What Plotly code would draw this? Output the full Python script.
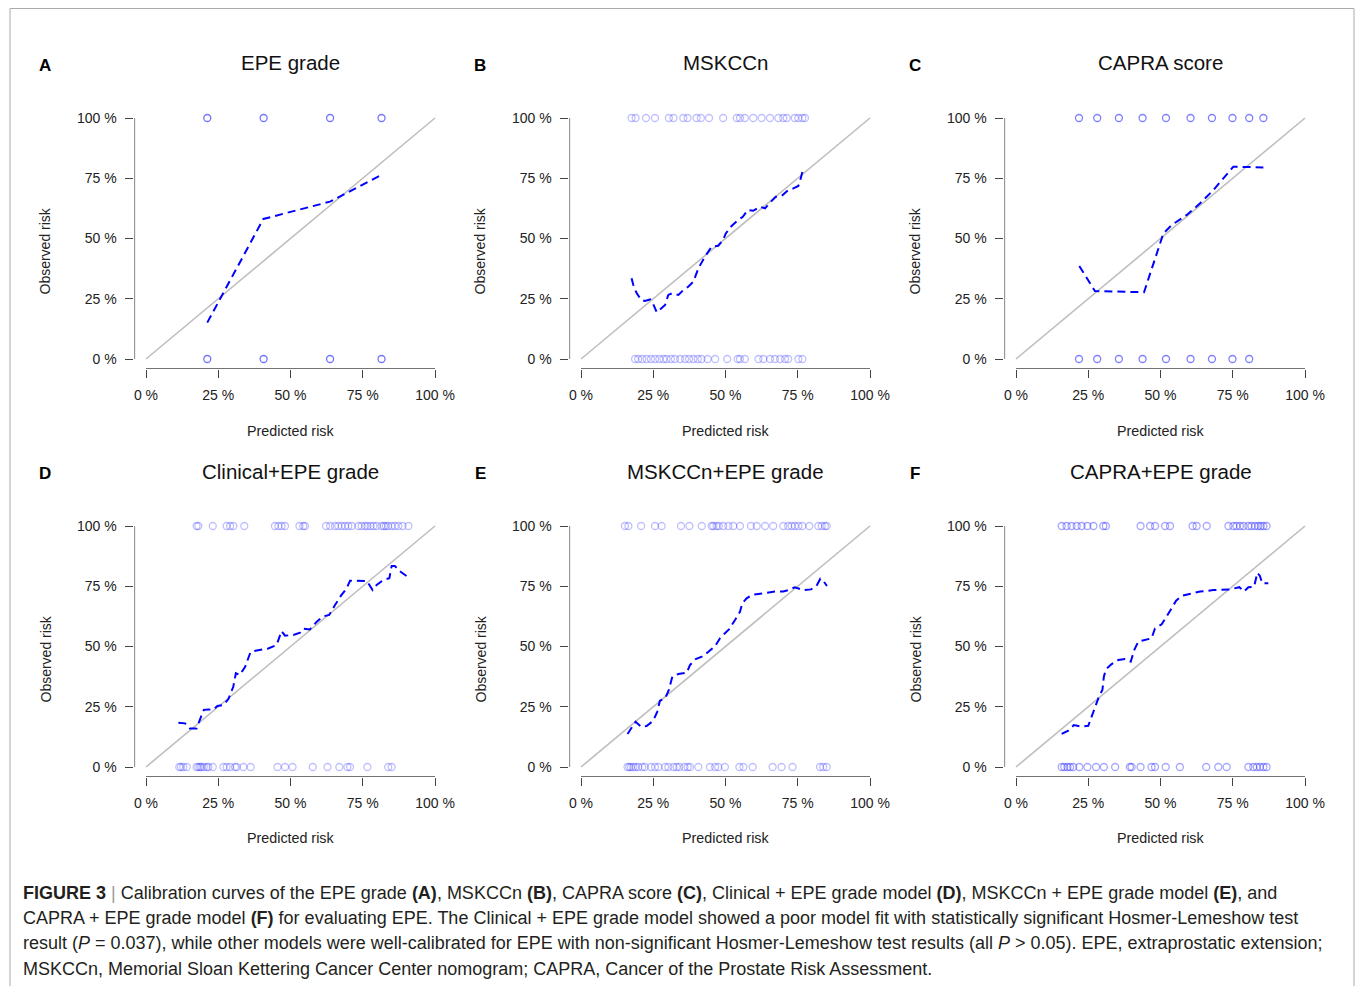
import plotly.graph_objects as go

# Figure fills the window (body margin removed after load). The screenshot is
# slightly compressed horizontally, so x positions are stretched by SX.
W, H = 1365, 986
SX = 1365 / 1357

# ---------------- data ----------------
panel_titles = ["EPE grade", "MSKCCn", "CAPRA score",
                "Clinical+EPE grade", "MSKCCn+EPE grade", "CAPRA+EPE grade"]
panel_letters = ["A", "B", "C", "D", "E", "F"]
tick_vals = [0, 0.25, 0.5, 0.75, 1]
tick_text = ["0 %", "25 %", "50 %", "75 %", "100 %"]
ref_line = [0, 1]

# A: EPE grade
a_rug_top = [0.212, 0.407, 0.637, 0.815]
a_rug_bottom = [0.212, 0.407, 0.637, 0.815]
a_curve_x = [0.212, 0.406, 0.637, 0.821]
a_curve_y = [0.151, 0.581, 0.653, 0.768]

# B: MSKCCn
b_rug_top = [0.175, 0.189, 0.225, 0.256, 0.304, 0.320, 0.354, 0.369, 0.400, 0.415,
             0.443, 0.492, 0.539, 0.550, 0.567, 0.596, 0.625, 0.654, 0.683, 0.700,
             0.712, 0.740, 0.752, 0.766, 0.775]
b_rug_bottom = [0.187, 0.198, 0.212, 0.227, 0.242, 0.256, 0.271, 0.285, 0.296, 0.311,
                0.325, 0.343, 0.360, 0.374, 0.389, 0.404, 0.417, 0.438, 0.464, 0.506,
                0.542, 0.550, 0.567, 0.614, 0.631, 0.654, 0.671, 0.689, 0.706, 0.717,
                0.752, 0.766]
b_curve_x = [0.175, 0.181, 0.192, 0.208, 0.221, 0.239, 0.250, 0.262, 0.291, 0.302,
             0.314, 0.337, 0.354, 0.371, 0.389, 0.406, 0.429, 0.452, 0.475, 0.492,
             0.501, 0.521, 0.544, 0.560, 0.577, 0.596, 0.619, 0.637, 0.654, 0.674,
             0.694, 0.717, 0.735, 0.752, 0.759, 0.770]
b_curve_y = [0.335, 0.307, 0.275, 0.245, 0.241, 0.247, 0.228, 0.194, 0.224, 0.266,
             0.272, 0.266, 0.286, 0.300, 0.321, 0.376, 0.425, 0.466, 0.470, 0.494,
             0.521, 0.552, 0.577, 0.590, 0.618, 0.615, 0.632, 0.625, 0.649, 0.673,
             0.676, 0.701, 0.708, 0.718, 0.743, 0.794]

# C: CAPRA score
c_rug_top = [0.218, 0.281, 0.356, 0.438, 0.519, 0.604, 0.678, 0.749, 0.807, 0.856]
c_rug_bottom = [0.218, 0.281, 0.356, 0.438, 0.519, 0.604, 0.678, 0.749, 0.807]
c_curve_x = [0.219, 0.273, 0.443, 0.510, 0.539, 0.591, 0.637, 0.683, 0.752, 0.856]
c_curve_y = [0.386, 0.282, 0.277, 0.521, 0.556, 0.598, 0.646, 0.701, 0.798, 0.795]

# D: Clinical + EPE grade
d_rug_top = [0.175, 0.181, 0.231, 0.279, 0.291, 0.302, 0.340, 0.446, 0.458, 0.469,
             0.481, 0.531, 0.544, 0.550, 0.623, 0.637, 0.654, 0.665, 0.677, 0.689,
             0.700, 0.712, 0.735, 0.746, 0.758, 0.766, 0.777, 0.787, 0.798, 0.815,
             0.823, 0.830, 0.838, 0.850, 0.861, 0.873, 0.888, 0.908]
d_rug_bottom = [0.115, 0.121, 0.129, 0.141, 0.175, 0.181, 0.187, 0.192, 0.200, 0.210,
                0.216, 0.231, 0.268, 0.279, 0.291, 0.308, 0.314, 0.337, 0.362, 0.455,
                0.481, 0.507, 0.577, 0.628, 0.669, 0.697, 0.706, 0.766, 0.838, 0.850]
d_curve_x = [0.112, 0.135, 0.152, 0.175, 0.187, 0.200, 0.216, 0.231, 0.247, 0.268,
             0.285, 0.302, 0.311, 0.325, 0.343, 0.354, 0.362, 0.383, 0.423, 0.452,
             0.469, 0.481, 0.510, 0.533, 0.544, 0.567, 0.591, 0.611, 0.634, 0.654,
             0.674, 0.694, 0.706, 0.764, 0.784, 0.798, 0.821, 0.842, 0.850, 0.861,
             0.881, 0.913]
d_curve_y = [0.184, 0.181, 0.160, 0.160, 0.198, 0.237, 0.239, 0.237, 0.253, 0.257,
             0.282, 0.333, 0.389, 0.382, 0.416, 0.451, 0.478, 0.483, 0.492, 0.506,
             0.564, 0.545, 0.548, 0.557, 0.574, 0.571, 0.603, 0.624, 0.631, 0.672,
             0.710, 0.741, 0.773, 0.772, 0.734, 0.755, 0.776, 0.783, 0.834, 0.834,
             0.810, 0.783]

# E: MSKCCn + EPE grade
e_rug_top = [0.152, 0.164, 0.208, 0.256, 0.279, 0.346, 0.375, 0.418, 0.452, 0.458,
             0.469, 0.477, 0.492, 0.510, 0.527, 0.550, 0.588, 0.608, 0.637, 0.665,
             0.700, 0.717, 0.729, 0.740, 0.752, 0.766, 0.790, 0.821, 0.833, 0.844,
             0.850]
e_rug_bottom = [0.161, 0.167, 0.173, 0.181, 0.189, 0.198, 0.212, 0.221, 0.242, 0.256,
                0.268, 0.291, 0.302, 0.320, 0.331, 0.340, 0.358, 0.369, 0.377, 0.406,
                0.446, 0.464, 0.475, 0.498, 0.548, 0.562, 0.594, 0.663, 0.694, 0.732,
                0.827, 0.838, 0.850]
e_curve_x = [0.161, 0.170, 0.189, 0.208, 0.227, 0.250, 0.264, 0.273, 0.291, 0.304,
             0.316, 0.337, 0.366, 0.377, 0.397, 0.418, 0.441, 0.464, 0.481, 0.498,
             0.512, 0.533, 0.550, 0.558, 0.573, 0.591, 0.637, 0.671, 0.700, 0.717,
             0.740, 0.769, 0.796, 0.815, 0.828, 0.838, 0.851]
e_curve_y = [0.137, 0.154, 0.188, 0.167, 0.170, 0.192, 0.230, 0.275, 0.285, 0.320,
             0.375, 0.386, 0.391, 0.423, 0.448, 0.458, 0.478, 0.502, 0.534, 0.555,
             0.571, 0.610, 0.644, 0.679, 0.700, 0.714, 0.721, 0.728, 0.728, 0.734,
             0.746, 0.734, 0.737, 0.751, 0.781, 0.773, 0.751]

# F: CAPRA + EPE grade
f_rug_top = [0.158, 0.175, 0.192, 0.210, 0.227, 0.247, 0.268, 0.302, 0.311, 0.431,
             0.464, 0.481, 0.516, 0.533, 0.611, 0.625, 0.660, 0.735, 0.752, 0.763,
             0.775, 0.787, 0.804, 0.815, 0.827, 0.838, 0.847, 0.856, 0.867]
f_rug_bottom = [0.158, 0.167, 0.178, 0.187, 0.198, 0.219, 0.247, 0.277, 0.304, 0.343,
                0.394, 0.400, 0.431, 0.469, 0.481, 0.518, 0.567, 0.658, 0.700, 0.729,
                0.804, 0.821, 0.833, 0.844, 0.856, 0.867]
f_curve_x = [0.158, 0.181, 0.200, 0.227, 0.250, 0.262, 0.273, 0.287, 0.299, 0.304,
             0.311, 0.331, 0.354, 0.377, 0.397, 0.409, 0.423, 0.452, 0.469, 0.481,
             0.504, 0.521, 0.539, 0.554, 0.573, 0.602, 0.637, 0.683, 0.740, 0.773,
             0.789, 0.804, 0.824, 0.835, 0.844, 0.852, 0.873]
f_curve_y = [0.137, 0.151, 0.174, 0.167, 0.171, 0.212, 0.250, 0.292, 0.320, 0.375,
             0.405, 0.427, 0.444, 0.448, 0.437, 0.485, 0.520, 0.527, 0.534, 0.575,
             0.592, 0.624, 0.663, 0.690, 0.710, 0.717, 0.728, 0.734, 0.737, 0.746,
             0.728, 0.746, 0.748, 0.806, 0.793, 0.762, 0.762]

rugs_top = [a_rug_top, b_rug_top, c_rug_top, d_rug_top, e_rug_top, f_rug_top]
rugs_bottom = [a_rug_bottom, b_rug_bottom, c_rug_bottom, d_rug_bottom, e_rug_bottom, f_rug_bottom]
curves_x = [a_curve_x, b_curve_x, c_curve_x, d_curve_x, e_curve_x, f_curve_x]
curves_y = [a_curve_y, b_curve_y, c_curve_y, d_curve_y, e_curve_y, f_curve_y]
rug_alpha = [0.55, 0.25, 0.5, 0.25, 0.25, 0.35]

caption_lines = [
    "<b>FIGURE 3</b> <span style='color:#999'>|</span> Calibration curves of the EPE grade <b>(A)</b>, MSKCCn <b>(B)</b>, CAPRA score <b>(C)</b>, Clinical + EPE grade model <b>(D)</b>, MSKCCn + EPE grade model <b>(E)</b>, and",
    "CAPRA + EPE grade model <b>(F)</b> for evaluating EPE. The Clinical + EPE grade model showed a poor model fit with statistically significant Hosmer-Lemeshow test",
    "result (<i>P</i> = 0.037), while other models were well-calibrated for EPE with non-significant Hosmer-Lemeshow test results (all <i>P</i> > 0.05). EPE, extraprostatic extension;",
    "MSKCCn, Memorial Sloan Kettering Cancer Center nomogram; CAPRA, Cancer of the Prostate Risk Assessment.",
]

# ---------------- layout geometry (screen pixels) ----------------
FONT = "Liberation Sans, Arial, sans-serif"
col_x0 = [146, 581, 1016]   # pixel of 0 % on x
unit_w = 289
row_y1 = [118, 526]         # pixel of 100 % on y
unit_h = 241
pad = 0.04


def px(x):
    return x * SX / W


def py(y):
    return 1 - y / H


fig = go.Figure()
annotations = []
shapes = []

for i in range(6):
    r, c = divmod(i, 3)
    n = i + 1
    xa = "x" if n == 1 else f"x{n}"
    ya = "y" if n == 1 else f"y{n}"
    x0 = col_x0[c]
    ytop = row_y1[r]
    ybot = ytop + unit_h
    dom_x = [px(x0 - pad * unit_w), px(x0 + (1 + pad) * unit_w)]
    dom_y = [py(ybot + pad * unit_h), py(ytop - pad * unit_h)]

    axcommon = dict(range=[-pad, 1 + pad], tickvals=tick_vals, ticktext=tick_text,
                    ticks="outside", ticklen=8, tickwidth=1.2, tickcolor="#444",
                    showgrid=False, zeroline=False, showline=False,
                    tickfont=dict(family=FONT, size=14, color="#222"))
    fig.layout[f"xaxis{'' if n == 1 else n}"] = dict(domain=dom_x, anchor=ya,
                                                    ticklabelstandoff=6, **axcommon)
    fig.layout[f"yaxis{'' if n == 1 else n}"] = dict(domain=dom_y, anchor=xa,
                                                    ticklabelstandoff=6, **axcommon)

    # R-style detached axis lines spanning 0..1
    shapes.append(dict(type="line", xref=xa, yref=ya, x0=0, x1=1, y0=-pad, y1=-pad,
                       line=dict(color="#444", width=1.3)))
    shapes.append(dict(type="line", xref=xa, yref=ya, x0=-pad, x1=-pad, y0=0, y1=1,
                       line=dict(color="#444", width=1.3)))

    # diagonal
    fig.add_trace(go.Scatter(x=ref_line, y=ref_line, mode="lines", xaxis=xa, yaxis=ya,
                             line=dict(color="#BEBEBE", width=1.6), showlegend=False,
                             hoverinfo="skip"))
    # rugs
    col = f"rgba(0,0,255,{rug_alpha[i]})"
    for vals, yv in ((rugs_top[i], 1), (rugs_bottom[i], 0)):
        fig.add_trace(go.Scatter(x=vals, y=[yv] * len(vals), mode="markers",
                                 xaxis=xa, yaxis=ya, showlegend=False,
                                 marker=dict(symbol="circle-open", size=7, color=col,
                                             line=dict(width=1.3, color=col))))
    # calibration curve
    fig.add_trace(go.Scatter(x=curves_x[i], y=curves_y[i], mode="lines", xaxis=xa, yaxis=ya,
                             line=dict(color="#0000FF", width=2, dash="8px,5px"),
                             showlegend=False))

    # texts
    cx = x0 + unit_w / 2
    title_y = 63 + r * 408
    annotations.append(dict(x=px(cx), y=py(title_y), xref="paper", yref="paper",
                            text=panel_titles[i], showarrow=False, xanchor="center",
                            yanchor="middle", font=dict(family=FONT, size=20.5, color="#111")))
    annotations.append(dict(x=px(x0 - 101), y=py(title_y + 2), xref="paper", yref="paper",
                            text=f"<b>{panel_letters[i]}</b>", showarrow=False,
                            xanchor="center", yanchor="middle",
                            font=dict(family=FONT, size=17, color="#000")))
    annotations.append(dict(x=px(x0 - 101), y=py(ytop + unit_h / 2 + 13), xref="paper",
                            yref="paper", text="Observed risk", showarrow=False,
                            textangle=-90, xanchor="center", yanchor="middle",
                            font=dict(family=FONT, size=14, color="#222")))
    annotations.append(dict(x=px(cx), y=py(431 + r * 407), xref="paper", yref="paper",
                            text="Predicted risk", showarrow=False, xanchor="center",
                            yanchor="middle", font=dict(family=FONT, size=14.3, color="#222")))

# caption
cap_y = [893, 918, 943, 969]
for line, yy in zip(caption_lines, cap_y):
    annotations.append(dict(x=px(21), y=py(yy), xref="paper", yref="paper", text=line,
                            showarrow=False, xanchor="left", yanchor="middle",
                            font=dict(family=FONT, size=18, color="#231F20")))

# outer frame
shapes.append(dict(type="rect", xref="paper", yref="paper", x0=px(10), x1=px(1354),
                   y0=py(1000), y1=py(8.5), line=dict(color="#AAAAAA", width=1),
                   fillcolor="rgba(0,0,0,0)", layer="below"))

fig.update_layout(width=W, height=H, margin=dict(l=0, r=0, t=0, b=0),
                  paper_bgcolor="white", plot_bgcolor="white",
                  annotations=annotations, shapes=shapes, showlegend=False,
                  font=dict(family=FONT))

# remove the default page margin so the figure starts at the window corner
fig.write_html("out.html", config={"displayModeBar": False},
               post_script="document.body.style.margin='0';document.body.style.overflow='hidden';")
